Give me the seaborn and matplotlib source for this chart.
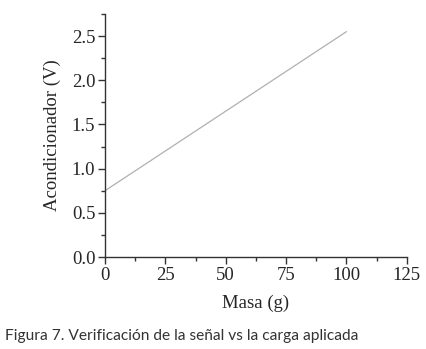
import matplotlib
matplotlib.use("Agg")
import matplotlib.pyplot as plt
import seaborn as sns
import pandas as pd
from matplotlib.ticker import MultipleLocator

masa = [0, 5, 10, 15, 20, 25, 30, 35, 40, 45, 50, 55, 60, 65, 70, 75, 80, 85, 90, 95, 100]
voltaje = [0.75, 0.84, 0.93, 1.02, 1.11, 1.20, 1.29, 1.38, 1.47, 1.56, 1.65,
           1.74, 1.83, 1.92, 2.01, 2.10, 2.19, 2.28, 2.37, 2.46, 2.55]
xticks = [0, 25, 50, 75, 100, 125]
yticks = [0.0, 0.5, 1.0, 1.5, 2.0, 2.5]

sns.set_style("ticks")
plt.rcParams['font.family'] = ['Liberation Serif', 'DejaVu Serif']

df = pd.DataFrame({"Masa": masa, "V": voltaje})
fig = plt.figure(figsize=(4.26, 3.49), dpi=100)
ax = fig.add_axes([0.2465, 0.2636, 0.7085, 0.6964])
sns.lineplot(data=df, x="Masa", y="V", ax=ax, color="#b0b0b0", linewidth=0.9)

ax.set_xlim(0, 125)
ax.set_ylim(0, 2.75)
ax.set_xticks(xticks)
ax.set_xticklabels([str(t) for t in xticks])
ax.set_yticks(yticks)
ax.set_yticklabels([f"{t:.1f}" for t in yticks])
ax.xaxis.set_minor_locator(MultipleLocator(12.5))
ax.yaxis.set_minor_locator(MultipleLocator(0.25))
ax.tick_params(which='major', direction='out', length=5, width=1, color='#333333', labelsize=13.5, pad=2)
ax.tick_params(which='minor', direction='out', length=3, width=1, color='#333333')
for s in ['top', 'right']:
    ax.spines[s].set_visible(False)
for s in ['left', 'bottom']:
    ax.spines[s].set_color('#333333')
    ax.spines[s].set_linewidth(1.0)

ax.set_xlabel("Masa (g)", fontsize=13.5, labelpad=8)
ax.set_ylabel("Acondicionador (V)", fontsize=13.5, labelpad=8)

fig.text(0.012, 0.025, "Figura 7. Verificación de la señal vs la carga aplicada",
         family=['Lato', 'DejaVu Sans'], fontsize=11.2, color='#333333')

fig.savefig("out.png", dpi=100)
